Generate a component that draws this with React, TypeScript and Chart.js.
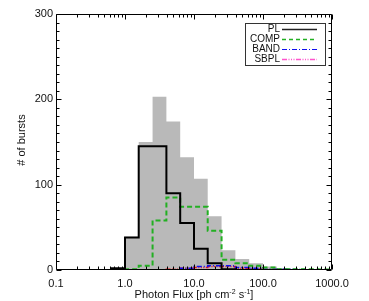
import React, { useEffect, useRef } from 'react';
import { Chart, registerables } from 'chart.js';

Chart.register(...registerables);

// Histogram bin edges (photon flux, ph cm^-2 s^-1)
const binEdges = [0.398, 0.631, 1.0, 1.58, 2.51, 3.98, 6.31, 10.0, 15.8, 25.1, 39.8, 63.1, 100, 158, 251, 398, 631, 1000];

// Counts per bin (# of bursts)
const totalCounts = [0, 2, 39, 150, 203, 174, 132, 107, 63, 23, 13, 8, 4, 2, 1, 0.5, 0];
const plCounts = [0, 2, 38, 145, 145, 90, 55, 25, 8, 1, 0, 0, 0, 0, 0, 0, 0];
const compCounts = [0, 0, 1, 5, 58, 85, 74, 74, 46, 12, 8, 5, 3, 1, 1, 1, 0.5];
const bandCounts = [0, 0, 0, 0, 0, 0, 2, 4, 5, 5, 3, 2, 1, 1, 0.5, 0, 0];
const sbplCounts = [0, 0, 0, 0, 0, 1, 2, 3, 4, 4, 2, 1, 0.5, 0, 0, 0, 0];

const seriesNames = ['PL', 'COMP', 'BAND', 'SBPL'];

const xTickValues = [0.1, 1, 10, 100, 1000];
const xTickLabels = ['0.1', '1.0', '10.0', '100.0', '1000.0'];
const yTickValues = [0, 100, 200, 300];

const FONT = '"Liberation Sans", Arial, Helvetica, sans-serif';
const TEXT = '#111';

function histPoints(edges: number[], counts: number[]) {
  let first = 0;
  while (first < counts.length - 1 && counts[first] === 0) first++;
  let last = counts.length - 1;
  while (last > first && counts[last] === 0) last--;
  const pts: { x: number; y: number }[] = [{ x: edges[first], y: 0 }];
  for (let i = first; i <= last; i++) pts.push({ x: edges[i], y: counts[i] });
  pts.push({ x: edges[last + 1], y: 0 });
  return pts;
}

const legendStyles = [
  { color: '#222', dash: [] as number[], width: 1.5 },
  { color: '#22b022', dash: [4, 3], width: 1.5 },
  { color: '#1010ee', dash: [5, 2, 1, 2], width: 1.2 },
  { color: '#ff55cc', dash: [5, 1.5, 1, 1.5, 1, 1.5, 1, 1.5], width: 1.5 },
];

const framePlugin = {
  id: 'idlFrame',
  afterDatasetsDraw(chart: any) {
    const { ctx, chartArea: a, scales } = chart;
    const x = scales.x;
    const y = scales.y;
    const L = Math.round(a.left) + 0.5;
    const R = Math.round(a.right) - 0.5;
    const T = Math.round(a.top) + 0.5;
    const B = Math.round(a.bottom) - 0.5;
    ctx.save();
    ctx.strokeStyle = '#000';
    ctx.lineWidth = 1;
    ctx.setLineDash([]);
    ctx.beginPath();
    ctx.rect(L, T, R - L, B - T);
    // x ticks (log)
    for (let d = 0; d < xTickValues.length; d++) {
      const dec = xTickValues[d];
      for (let k = 1; k <= 9; k++) {
        const v = dec * k;
        if (v > 1000.0001) break;
        const px = Math.round(x.getPixelForValue(v)) + 0.5;
        const len = k === 1 ? 5 : 3;
        ctx.moveTo(px, B);
        ctx.lineTo(px, B - len);
        ctx.moveTo(px, T);
        ctx.lineTo(px, T + len);
      }
    }
    // y ticks
    for (let v = 0; v <= 300; v += 10) {
      const py = Math.round(y.getPixelForValue(v)) + 0.5;
      const len = v % 100 === 0 ? 5 : 3;
      ctx.moveTo(L, py);
      ctx.lineTo(L + len, py);
      ctx.moveTo(R, py);
      ctx.lineTo(R - len, py);
    }
    ctx.stroke();
    ctx.restore();
  },
  afterDraw(chart: any) {
    const { ctx, chartArea: a } = chart;
    ctx.save();
    ctx.fillStyle = TEXT;
    // y title
    ctx.save();
    ctx.translate(22, (a.top + a.bottom) / 2 - 2);
    ctx.rotate(-Math.PI / 2);
    ctx.font = `11px ${FONT}`;
    ctx.textAlign = 'center';
    ctx.textBaseline = 'middle';
    ctx.fillText('# of bursts', 0, 0);
    ctx.restore();

    // x title with superscripts
    const parts = [
      { t: 'Photon Flux [ph cm', sup: false },
      { t: '-2', sup: true },
      { t: ' s', sup: false },
      { t: '-1', sup: true },
      { t: ']', sup: false },
    ];
    const mainFont = `11px ${FONT}`;
    const supFont = `7px ${FONT}`;
    let total = 0;
    for (const p of parts) {
      ctx.font = p.sup ? supFont : mainFont;
      total += ctx.measureText(p.t).width;
    }
    let cx = (a.left + a.right) / 2 - total / 2;
    const base = 298;
    ctx.textAlign = 'left';
    ctx.textBaseline = 'alphabetic';
    for (const p of parts) {
      ctx.font = p.sup ? supFont : mainFont;
      ctx.fillText(p.t, cx, p.sup ? base - 4.5 : base);
      cx += ctx.measureText(p.t).width;
    }

    // legend
    const bx = 245.5, by = 23.5, bw = 80, bh = 42;
    ctx.strokeStyle = '#333';
    ctx.lineWidth = 1;
    ctx.setLineDash([]);
    ctx.strokeRect(bx, by, bw, bh);
    ctx.font = `10px ${FONT}`;
    ctx.textAlign = 'right';
    ctx.textBaseline = 'middle';
    for (let i = 0; i < seriesNames.length; i++) {
      const ry = 29 + i * 10;
      ctx.fillStyle = TEXT;
      ctx.fillText(seriesNames[i], 280, ry + 0.5);
      const st = legendStyles[i];
      ctx.strokeStyle = st.color;
      ctx.lineWidth = st.width;
      ctx.setLineDash(st.dash);
      ctx.beginPath();
      ctx.moveTo(282, ry + 0.5);
      ctx.lineTo(317, ry + 0.5);
      ctx.stroke();
    }
    ctx.restore();
  },
};

export default function App() {
  const canvasRef = useRef<HTMLCanvasElement | null>(null);

  useEffect(() => {
    const canvas = canvasRef.current;
    if (!canvas) return;
    const chart = new Chart(canvas, {
      type: 'line',
      data: {
        datasets: [
          {
            label: 'PL',
            data: histPoints(binEdges, plCounts),
            borderColor: '#000',
            borderWidth: 2,
            stepped: true,
            pointRadius: 0,
            fill: false,
            clip: 0,
          },
          {
            label: 'COMP',
            data: histPoints(binEdges, compCounts),
            borderColor: '#22b022',
            borderWidth: 2,
            borderDash: [5, 3],
            stepped: true,
            pointRadius: 0,
            fill: false,
            clip: 0,
          },
          {
            label: 'BAND',
            data: histPoints(binEdges, bandCounts),
            borderColor: '#1010ee',
            borderWidth: 1.5,
            borderDash: [5, 2, 1, 2],
            stepped: true,
            pointRadius: 0,
            fill: false,
            clip: 0,
          },
          {
            label: 'SBPL',
            data: histPoints(binEdges, sbplCounts),
            borderColor: '#ee1010',
            borderWidth: 1.5,
            borderDash: [5, 1.5, 1, 1.5, 1, 1.5, 1, 1.5],
            stepped: true,
            pointRadius: 0,
            fill: false,
            clip: 0,
          },
          {
            label: 'All',
            data: histPoints(binEdges, totalCounts),
            borderColor: 'rgba(0,0,0,0)',
            borderWidth: 0,
            backgroundColor: '#b9b9b9',
            stepped: true,
            pointRadius: 0,
            fill: 'origin',
            clip: 0,
          },
        ],
      },
      options: {
        responsive: false,
        animation: false,
        events: [],
        layout: { padding: { left: 0, right: 37, top: 14, bottom: 0 } },
        plugins: {
          legend: { display: false },
          tooltip: { enabled: false },
          title: { display: false },
        },
        scales: {
          x: {
            type: 'logarithmic',
            min: 0.1,
            max: 1000,
            position: 'bottom',
            grid: { display: false, drawTicks: false },
            border: { display: false },
            ticks: {
              autoSkip: false,
              maxRotation: 0,
              padding: 7,
              color: TEXT,
              font: { family: FONT, size: 11 },
              callback: (v: any) => {
                const idx = xTickValues.findIndex((t) => Math.abs(t - Number(v)) < 1e-9 * Math.max(1, t));
                return idx >= 0 ? xTickLabels[idx] : '';
              },
            },
            afterBuildTicks: (s: any) => {
              s.ticks = xTickValues.map((v) => ({ value: v }));
            },
            afterFit: (s: any) => {
              s.height = 31;
            },
          },
          y: {
            type: 'linear',
            min: 0,
            max: 300,
            grid: { display: false, drawTicks: false },
            border: { display: false },
            ticks: {
              padding: 3,
              color: TEXT,
              font: { family: FONT, size: 11 },
            },
            afterBuildTicks: (s: any) => {
              s.ticks = yTickValues.map((v) => ({ value: v }));
            },
            afterFit: (s: any) => {
              s.width = 56;
            },
          },
        },
      },
      plugins: [framePlugin],
    } as any);
    return () => chart.destroy();
  }, []);

  return (
    <div style={{ position: 'fixed', left: 0, top: 0, width: 369, height: 301, background: '#fff' }}>
      <canvas ref={canvasRef} width={369} height={301} style={{ display: 'block' }} />
    </div>
  );
}
